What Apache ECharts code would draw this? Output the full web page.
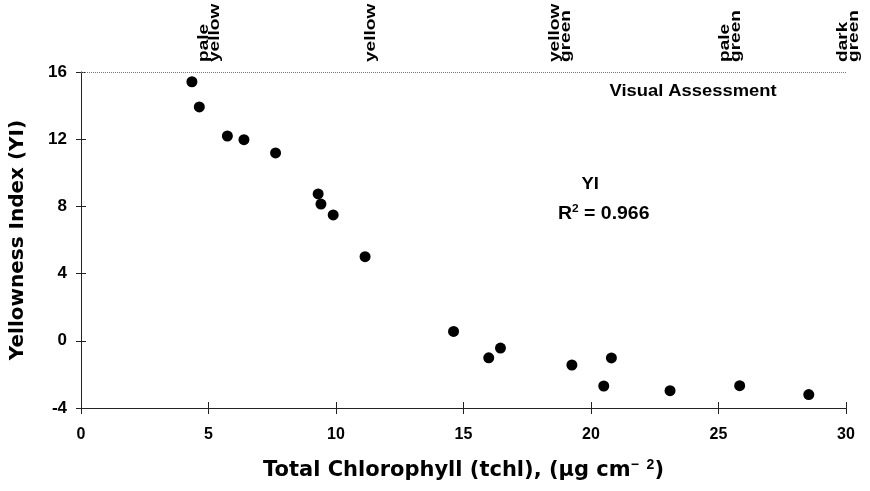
<!DOCTYPE html>
<html>
<head>
<meta charset="utf-8">
<script src="https://cdn.jsdelivr.net/npm/echarts@6/dist/echarts.min.js"></script>
<style>
  html, body { margin: 0; padding: 0; background: #fff; }
  #chart { width: 870px; height: 491px; }
</style>
</head>
<body>
<div id="chart"></div>
<script>
// total chlorophyll (ug cm-2) vs yellowness index
const tchl = [4.35, 4.64, 5.74, 6.39, 7.63, 9.30, 9.41, 9.89, 11.14, 14.61, 15.99, 16.45, 19.25, 20.50, 20.80, 23.10, 25.83, 28.54];
const yi = [15.42, 13.92, 12.19, 11.97, 11.18, 8.74, 8.14, 7.49, 5.01, 0.56, -1.01, -0.43, -1.44, -2.69, -1.02, -2.97, -2.67, -3.20];

// visual assessment labels along the top, and where they sit on the x scale
const visualLabels = ['pale\nyellow', 'yellow', 'yellow\ngreen', 'pale\ngreen', 'dark\ngreen'];
const visualAt = [5.05, 11.35, 18.8, 25.45, 30.1];

const font = 'Liberation Sans, Arial, sans-serif';
const wide = 'DejaVu Sans, Liberation Sans, sans-serif';

const chart = echarts.init(document.getElementById('chart'));

const baseX = {
  type: 'value', min: 0, max: 30, interval: 5,
  position: 'bottom',
  splitLine: { show: false }
};
const baseY = {
  type: 'value', min: -4, max: 16, interval: 4,
  position: 'left',
  splitLine: { show: false }
};

chart.setOption({
  animation: false,
  grid: { left: 81, right: 24, top: 72, bottom: 83 },
  xAxis: [
    Object.assign({}, baseX, {
      axisLine: { onZero: false, lineStyle: { color: '#222', width: 1 } },
      axisTick: { length: 6, lineStyle: { color: '#222' } },
      axisLabel: { color: '#000', fontFamily: font, fontWeight: 'bold', fontSize: 16, margin: 19 },
      name: 'Total Chlorophyll (tchl), (µg cm{sup|−  2})',
      nameLocation: 'middle',
      nameGap: 50,
      nameTextStyle: {
        color: '#000', fontFamily: wide, fontWeight: 'bold', fontSize: 21,
        rich: { sup: { fontFamily: font, fontWeight: 'bold', fontSize: 14, verticalAlign: 'top', padding: [0, 0, 12, 0] } }
      }
    }),
    Object.assign({}, baseX, {
      axisLine: { show: false, onZero: false },
      axisTick: { inside: true, length: 6, lineStyle: { color: '#222' } },
      axisLabel: { show: false }
    })
  ],
  yAxis: [
    Object.assign({}, baseY, {
      axisLine: { onZero: false, lineStyle: { color: '#222', width: 1 } },
      axisTick: { length: 5, lineStyle: { color: '#222' } },
      axisLabel: { color: '#000', fontFamily: font, fontWeight: 'bold', fontSize: 17, margin: 14 },
      name: 'Yellowness Index (YI)',
      nameLocation: 'middle',
      nameGap: 53,
      nameTextStyle: { color: '#000', fontFamily: wide, fontWeight: 'bold', fontSize: 20 }
    }),
    Object.assign({}, baseY, {
      axisLine: { show: false, onZero: false },
      axisTick: { inside: true, length: 5, lineStyle: { color: '#222' } },
      axisLabel: { show: false }
    })
  ],
  series: [{
    type: 'scatter',
    data: tchl.map((x, i) => [x, yi[i]]),
    symbolSize: 11,
    itemStyle: { color: '#000', opacity: 1 },
    markLine: {
      silent: true,
      symbol: 'none',
      label: { show: false },
      lineStyle: { color: '#777', type: 'dotted', width: 1 },
      data: [{ yAxis: 16 }]
    }
  }]
});

// place the top labels and the in-plot notes from axis values
const gfx = visualLabels.map((t, i) => {
  const p = chart.convertToPixel({ gridIndex: 0 }, [visualAt[i], 16]);
  return {
    type: 'text',
    x: p[0], y: 62,
    rotation: Math.PI / 2,
    scaleX: 1.27,
    style: {
      text: t, fill: '#000',
      font: 'bold 15px ' + font,
      lineHeight: 11,
      align: 'left', verticalAlign: 'middle'
    }
  };
});
function note(text, at, extra) {
  const p = chart.convertToPixel({ gridIndex: 0 }, at);
  return {
    type: 'text', x: p[0], y: p[1], scaleX: 1.08,
    style: Object.assign({ text: text, fill: '#000', font: 'bold 17px ' + font, align: 'center', verticalAlign: 'middle' }, extra || {})
  };
}
gfx.push(note('Visual Assessment', [24.0, 14.85]));
gfx.push(note('YI', [19.97, 9.3]));
gfx.push(note('R{s|2} = 0.966', [20.5, 7.55], {
  font: 'bold 18px ' + font,
  rich: { s: { font: 'bold 11px ' + font, verticalAlign: 'top', padding: [0, 0, 9, 0] } }
}));
chart.setOption({ graphic: gfx });
</script>
</body>
</html>
